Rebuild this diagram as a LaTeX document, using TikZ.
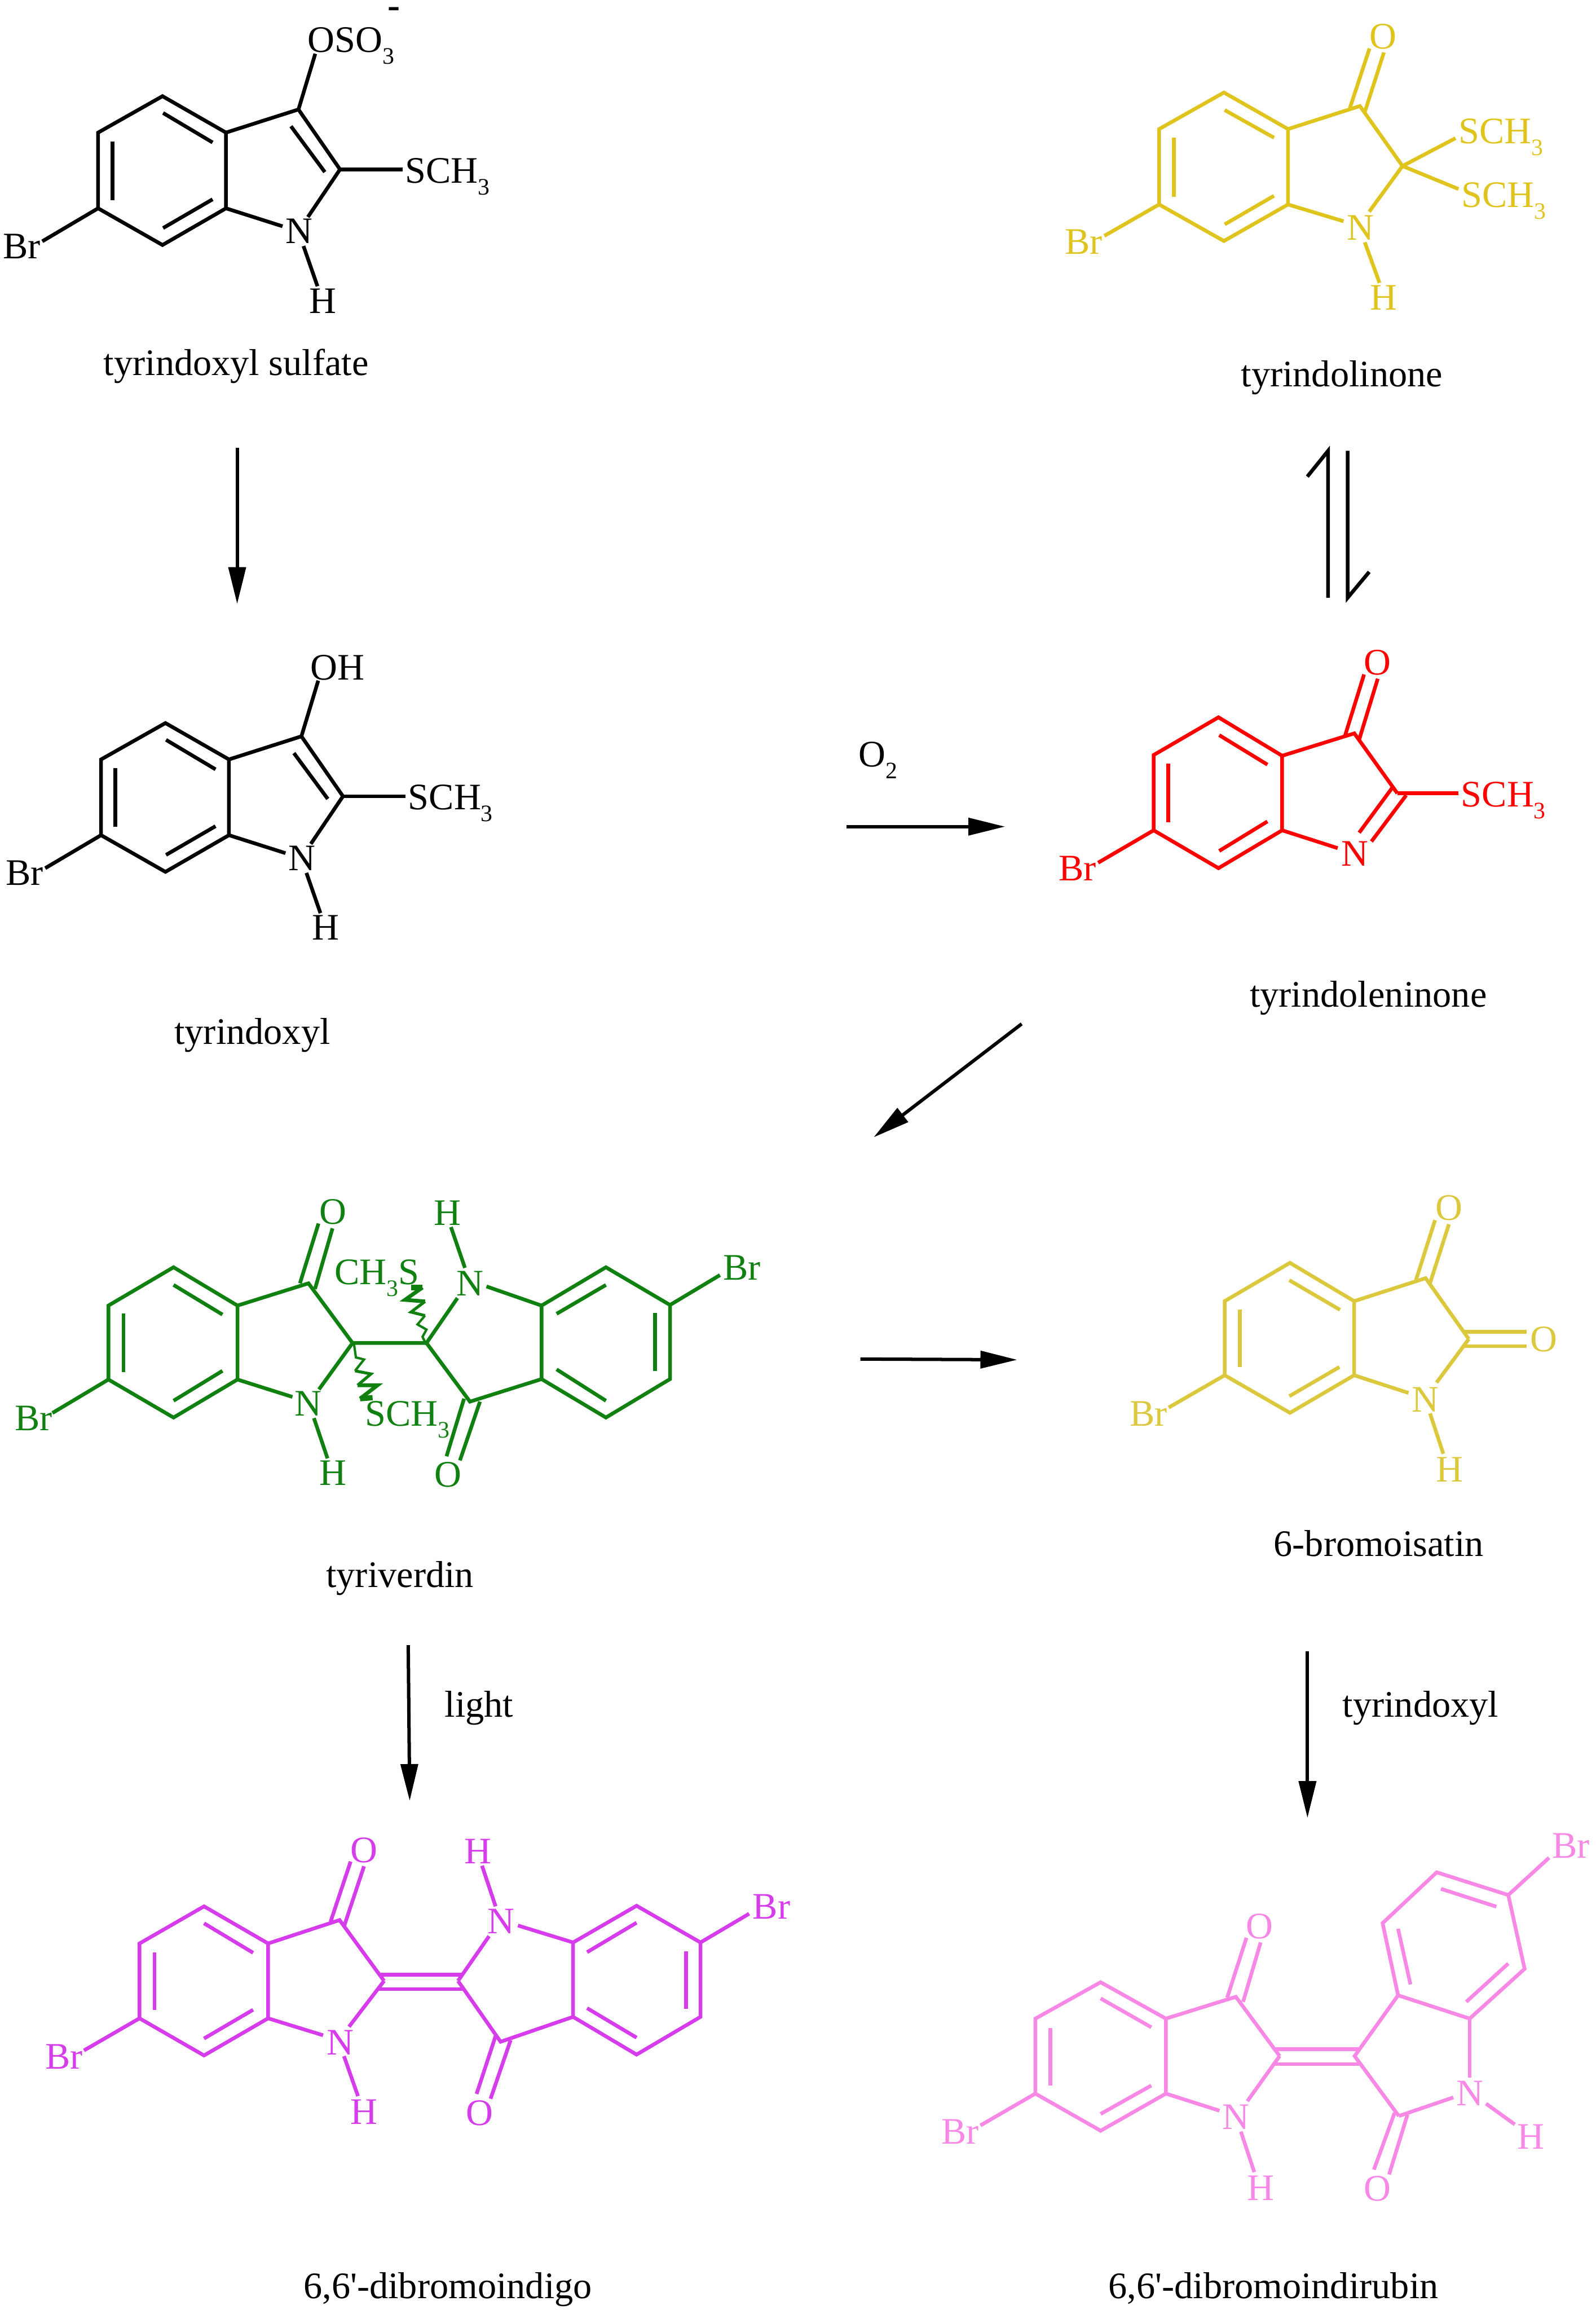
\documentclass[tikz,border=0pt]{standalone}
\usepackage{fontspec}
\setmainfont{Liberation Serif}
\newfontfamily\plainserif{Liberation Serif}
\usetikzlibrary{arrows.meta}
\definecolor{goldmol}{HTML}{E0C41E}
\definecolor{redmol}{HTML}{FF0000}
\definecolor{greenmol}{HTML}{108010}
\definecolor{yellowmol}{HTML}{DCC83C}
\definecolor{purplemol}{HTML}{D63CEB}
\definecolor{pinkmol}{HTML}{F788E6}
\tikzset{
  bondline/.style={line width=1.25pt,line join=miter,line cap=butt},
  atomlab/.style={anchor=base west,inner sep=0pt,xshift=-0.3pt,yshift=-0.3pt,font=\fontsize{12.7}{14}\selectfont},
  caption/.style={anchor=base west,inner sep=0pt,yshift=-0.3pt,text=black,font=\fontsize{12.7}{14}\selectfont},
  rxn/.style={line width=1.15pt,black,-{Triangle[length=12.5pt,width=5.8pt]}},
  eqline/.style={line width=1.25pt,black,line join=miter}
}
\newcommand\subd[1]{\raisebox{-4pt}{\fontsize{8}{8}\selectfont #1}}
\newcommand\atomat[3]{\coordinate (#1) at (#2,#3);}
\newcommand\lab[4]{\node[atomlab] (#1) at (#2,#3) {#4};}
\newcommand\link[2]{\draw[bondline] (#1) -- (#2);}
% free segment: named ends #1a, #1b
\newcommand\seg[5]{\coordinate (#1a) at (#2,#3);\coordinate (#1b) at (#4,#5);\draw[bondline] (#1a) -- (#1b);}
% bond from atom #1 to a free end #2
\newcommand\tobond[4]{\coordinate (#2) at (#3,#4);\draw[bondline] (#1) -- (#2);}
% hexagon drawn through six named atoms
\newcommand\ring[6]{\draw[bondline] (#1) -- (#2) -- (#3) -- (#4) -- (#5) -- (#6) -- cycle;}
% the tyrindoxyl skeleton shared by the two top-left molecules
\newcommand\indolyl[1]{%
  \atomat{#1t}{110.3}{65.3}\atomat{#1ul}{66.6}{90}\atomat{#1ll}{66.6}{141.4}
  \atomat{#1b}{110.3}{166.3}\atomat{#1lr}{153.4}{141.4}\atomat{#1ur}{153.4}{90}
  \atomat{#1c3}{202.6}{74.3}\atomat{#1c2}{230.8}{115}
  \ring{#1t}{#1ul}{#1ll}{#1b}{#1lr}{#1ur}
  \draw[bondline] (#1ur) -- (#1c3) -- (#1c2);
  \tobond{#1lr}{#1ne}{191.8}{153.6}
  \tobond{#1c2}{#1nf}{209}{147.3}
  \seg{#1nh}{206}{167}{215.5}{194.3}
  \tobond{#1c3}{#1oe}{214}{36.5}
  \tobond{#1c2}{#1se}{273.3}{115}
  \tobond{#1ll}{#1bre}{28.7}{163.8}
  \seg{#1da}{110.7}{76.7}{144.3}{96.7}
  \seg{#1db}{76.3}{95.9}{76.3}{135.8}
  \seg{#1dc}{110.7}{154.8}{144.3}{135.3}
  \seg{#1dd}{197.5}{85.7}{220.5}{116.8}
  \lab{#1S}{275.3}{123.5}{SCH\subd{3}}
  \lab{#1N}{194}{164.6}{N}
  \lab{#1H}{210}{212}{H}
  \lab{#1Br}{2.3}{174.8}{Br}
}
\begin{document}
\begin{tikzpicture}[x=0.5pt,y=-0.5pt]
\useasboundingbox (0,0) rectangle (1083,1568);

% ---------- tyrindoxyl sulfate
\begin{scope}[black]
  \indolyl{a}
  \lab{aO}{209}{34.8}{OSO\subd{3}}
  \node[anchor=base,inner sep=0pt,font=\fontsize{12.7}{14}\selectfont\bfseries] (aminus) at (267.6,12) {-};
\end{scope}
\node[caption] (capa) at (70,254) {tyrindoxyl sulfate};

% ---------- tyrindoxyl
\begin{scope}[black,shift={(2,425.5)}]
  \indolyl{c}
  \lab{cO}{209}{35.5}{OH}
\end{scope}
\node[caption] (capc) at (118,708) {tyrindoxyl};

% ---------- tyrindolinone
\begin{scope}[color=goldmol]
  \atomat{bt}{830.8}{62.8}\atomat{bul}{786.8}{87.6}\atomat{bll}{786.8}{138.8}
  \atomat{bb}{830.8}{163.6}\atomat{blr}{874.3}{138.8}\atomat{bur}{874.3}{87.6}
  \atomat{bc3}{923.1}{72}\atomat{bc2}{952}{112.7}
  \ring{bt}{bul}{bll}{bb}{blr}{bur}
  \draw[bondline] (bur) -- (bc3) -- (bc2);
  \tobond{blr}{bne}{912}{150.2}
  \tobond{bc2}{bnf}{929.4}{143.7}
  \seg{bnh}{926.4}{164.5}{936.4}{192}
  \seg{bo1}{916.3}{73.3}{929.6}{32.9}
  \seg{bo2}{926.4}{76}{939.4}{35.6}
  \tobond{bc2}{bs1}{988}{93.8}
  \tobond{bc2}{bs2}{990}{128.3}
  \tobond{bll}{bbre}{749.6}{160.1}
  \seg{bda}{831.3}{74.7}{864.8}{93.5}
  \seg{bdb}{796.9}{93.5}{796.9}{133.5}
  \seg{bdc}{831.3}{152.3}{864.8}{132.9}
  \lab{bO}{930}{32.4}{O}
  \lab{bS1}{990.4}{97}{SCH\subd{3}}
  \lab{bS2}{992.2}{140.2}{SCH\subd{3}}
  \lab{bN}{914.6}{162.3}{N}
  \lab{bH}{930.1}{209.7}{H}
  \lab{bBr}{723.2}{172}{Br}
\end{scope}
\node[caption] (capb) at (842,262) {tyrindolinone};

% ---------- equilibrium arrows
\atomat{eqa}{901.5}{405.7}\atomat{eqb}{901.5}{306}\atomat{eqc}{887.4}{323.5}
\atomat{eqd}{914.8}{306}\atomat{eqe}{914.8}{405.7}\atomat{eqf}{929.4}{388.2}
\draw[eqline] (eqa) -- (eqb) -- (eqc);
\draw[eqline] (eqd) -- (eqe) -- (eqf);

% ---------- tyrindoleninone
\begin{scope}[color=redmol]
  \atomat{dt}{827.1}{486.9}\atomat{dul}{783.1}{512.5}\atomat{dll}{783.1}{563.6}
  \atomat{db}{827.1}{589.3}\atomat{dlr}{870.3}{563.6}\atomat{dur}{870.3}{513}
  \atomat{dc3}{919.3}{497.8}\atomat{dc2}{948.5}{538.5}
  \ring{dt}{dul}{dll}{db}{dlr}{dur}
  \draw[bondline] (dur) -- (dc3) -- (dc2);
  \tobond{dlr}{dne}{908}{575.7}
  \seg{dn1}{945.2}{534.5}{922.6}{565.2}
  \seg{dn2}{954.5}{539.8}{930.9}{571.2}
  \seg{do1}{913.1}{499}{925.9}{457.8}
  \seg{do2}{922.6}{502}{935.2}{460.7}
  \tobond{dc2}{dse}{990}{538.5}
  \tobond{dll}{dbre}{745.4}{585.6}
  \seg{dda}{827.6}{499}{860.3}{519}
  \seg{ddb}{792.9}{518.2}{792.9}{558.1}
  \seg{ddc}{827.6}{577.6}{860.3}{557.6}
  \lab{dO}{926}{457.4}{O}
  \lab{dS}{992}{547}{SCH\subd{3}}
  \lab{dN}{910.8}{587.2}{N}
  \lab{dBr}{719}{597.1}{Br}
\end{scope}
\node[caption] (capd) at (848,683) {tyrindoleninone};

% ---------- tyriverdin
\begin{scope}[color=greenmol]
  \atomat{et}{117.8}{860.2}\atomat{eul}{73.6}{886.2}\atomat{ell}{73.6}{936.4}
  \atomat{eb}{117.8}{962.2}\atomat{elr}{161.2}{936.4}\atomat{eur}{161.2}{886.2}
  \atomat{ec3}{209.4}{871.1}\atomat{ec2}{239.3}{911.6}
  \atomat{fc2}{289.5}{911.6}\atomat{fc3}{319}{951.4}
  \atomat{fll}{367.6}{936.1}\atomat{ful}{367.6}{886.2}\atomat{ft}{411.3}{860.2}
  \atomat{fur}{454.8}{885.8}\atomat{flr}{454.8}{936.1}\atomat{fb}{411.3}{962.2}
  \ring{et}{eul}{ell}{eb}{elr}{eur}
  \ring{ft}{ful}{fll}{fb}{flr}{fur}
  \draw[bondline] (eur) -- (ec3) -- (ec2) -- (fc2) -- (fc3) -- (fll);
  \tobond{elr}{ene}{198.5}{948.2}
  \tobond{ec2}{enf}{216.5}{943.1}
  \seg{enh}{213.1}{962.6}{222.3}{989.9}
  \tobond{ful}{fne}{330.2}{873.2}
  \tobond{fc2}{fnf}{310.5}{881.1}
  \seg{fnh}{315.6}{860.6}{306.1}{832.9}
  \seg{eo1}{203.6}{871.1}{216.2}{830.5}
  \seg{eo2}{213.8}{874.9}{225.7}{833.8}
  \seg{fo1}{315}{949.4}{303.1}{988.5}
  \seg{fo2}{325.8}{951.4}{312.2}{991.3}
  \tobond{ell}{ebre}{35.6}{959.1}
  \tobond{fur}{fbre}{488.7}{865.5}
  \seg{eda}{117.8}{872.2}{151}{892.3}
  \seg{edb}{83.8}{891.6}{83.8}{931.2}
  \seg{edc}{117.8}{950.8}{151}{930.5}
  \seg{fda}{411.3}{872.2}{377.8}{891.8}
  \seg{fdb}{444.6}{891.3}{444.6}{930.5}
  \seg{fdc}{411.3}{950.8}{377.8}{929.5}
  % wavy bonds, thickening away from the carbon
  \foreach \n/\x/\y in {1/288.5/910.9,2/286.8/907.4,3/289.5/902.5,4/283.4/899,5/288.5/893,6/279/890.6,7/288.5/883.4,8/274.9/882.3,9/286.8/873.9,10/279/873.9}
    {\coordinate (wu\n) at (\x,\y);}
  \foreach \n/\x/\y in {1/240.3/912.3,2/241.6/921.4,3/247.1/922.8,4/241/930.5,5/251.8/932.6,6/242.7/940.3,7/256.2/940.3,8/244.4/949.4,9/252.9/948.7}
    {\coordinate (wl\n) at (\x,\y);}
  \draw[line width=0.8pt,line join=miter] (wu1) -- (wu2) -- (wu3) -- (wu4) -- (wu5);
  \draw[line width=1pt,line join=miter] (wu5) -- (wu6) -- (wu7);
  \draw[line width=1.3pt,line join=miter] (wu7) -- (wu8) -- (wu9);
  \draw[line width=1.8pt] (wu9) -- (wu10);
  \draw[line width=0.8pt,line join=miter] (wl1) -- (wl2) -- (wl3) -- (wl4);
  \draw[line width=1pt,line join=miter] (wl4) -- (wl5) -- (wl6);
  \draw[line width=1.3pt,line join=miter] (wl6) -- (wl7) -- (wl8);
  \draw[line width=1.8pt] (wl8) -- (wl9);
  \lab{eO}{217.2}{830.1}{O}
  \lab{fH}{294.6}{831.2}{H}
  \lab{eCS}{227.4}{871.1}{CH\subd{3}S}
  \lab{fN}{309.9}{878.8}{N}
  \lab{fBr}{491.1}{868.3}{Br}
  \lab{eBr}{10.2}{970.3}{Br}
  \lab{eN}{200.2}{960.3}{N}
  \lab{eS}{248}{967.2}{SCH\subd{3}}
  \lab{eH}{217.2}{1007.6}{H}
  \lab{fO}{295.3}{1008.8}{O}
\end{scope}
\node[caption] (cape) at (221,1077) {tyriverdin};

% ---------- 6-bromoisatin
\begin{scope}[color=yellowmol]
  \atomat{gt}{875.6}{857.2}\atomat{gul}{831.3}{883.2}\atomat{gll}{831.3}{933.5}
  \atomat{gb}{875.6}{959}\atomat{glr}{919.2}{933.5}\atomat{gur}{919.2}{883.2}
  \atomat{gc3}{967.7}{867.6}\atomat{gc2}{997}{908.9}
  \ring{gt}{gul}{gll}{gb}{glr}{gur}
  \draw[bondline] (gur) -- (gc3) -- (gc2);
  \tobond{glr}{gne}{956.1}{945.5}
  \tobond{gc2}{gnf}{975.1}{938.5}
  \seg{gnh}{970.7}{959.4}{979.7}{986.8}
  \seg{go1}{961.1}{869}{974.1}{828.2}
  \seg{go2}{970.5}{871.6}{983.5}{831}
  \seg{gp1}{994}{903.9}{1036.4}{903.9}
  \seg{gp2}{994}{913.7}{1036.4}{913.7}
  \tobond{gll}{gbre}{793.3}{955.4}
  \seg{gda}{875.2}{869}{909.6}{889.1}
  \seg{gdb}{841.5}{889}{841.5}{928.1}
  \seg{gdc}{875.2}{947.7}{909.2}{927.9}
  \lab{gO}{974.5}{827.6}{O}
  \lab{gP}{1039}{916.9}{O}
  \lab{gN}{958.5}{957.8}{N}
  \lab{gH}{975}{1005.4}{H}
  \lab{gBr}{767}{967.4}{Br}
\end{scope}
\node[caption] (capg) at (864.2,1055.9) {6-bromoisatin};

% ---------- 6,6'-dibromoindigo
\begin{scope}[color=purplemol]
  \atomat{ht}{138.5}{1294}\atomat{hul}{94.7}{1319.2}\atomat{hll}{94.7}{1370}
  \atomat{hb}{138.5}{1395.2}\atomat{hlr}{182}{1370}\atomat{hur}{182}{1319.2}
  \atomat{hc3}{230.5}{1303.3}\atomat{hc2}{260.7}{1344.6}
  \atomat{ic2}{310.9}{1344.6}\atomat{ic3}{339.8}{1385.9}
  \atomat{ill}{389}{1369}\atomat{iul}{389}{1318.5}\atomat{it}{432.1}{1293.6}
  \atomat{iur}{475.5}{1318.5}\atomat{ilr}{475.5}{1369}\atomat{ib}{432.1}{1394.6}
  \ring{ht}{hul}{hll}{hb}{hlr}{hur}
  \ring{it}{iul}{ill}{ib}{ilr}{iur}
  \draw[bondline] (hur) -- (hc3) -- (hc2);
  \draw[bondline] (ic2) -- (ic3) -- (ill);
  \tobond{hlr}{hne}{219.3}{1381.5}
  \tobond{hc2}{hnf}{236.9}{1375.7}
  \seg{hnh}{233.5}{1395.7}{243}{1422.8}
  \tobond{iul}{ine}{351.6}{1307}
  \tobond{ic2}{inf}{332}{1314.2}
  \seg{inh}{336.4}{1294}{327.2}{1266.4}
  \seg{ho1}{224.4}{1304.4}{238}{1263.6}
  \seg{ho2}{233.5}{1307.7}{247.1}{1266.8}
  \seg{io1}{336.4}{1382}{323.5}{1421.3}
  \seg{io2}{346.6}{1384.8}{333}{1424.6}
  \seg{hi1}{257.3}{1340.3}{314.3}{1340.3}
  \seg{hi2}{257.3}{1350.1}{314.3}{1350.1}
  \tobond{hll}{hbre}{57}{1391.8}
  \tobond{iur}{ibre}{508.5}{1299}
  \seg{hda}{138.5}{1305.5}{171.8}{1325.5}
  \seg{hdb}{104.9}{1325.1}{104.9}{1364.2}
  \seg{hdc}{138.5}{1383.7}{171.8}{1364.2}
  \seg{ida}{432.1}{1305.1}{398.5}{1325.1}
  \seg{idb}{465.7}{1324.4}{465.7}{1363.5}
  \seg{idc}{432.1}{1383.1}{398.5}{1363.1}
  \lab{hO}{238}{1263.6}{O}
  \lab{iH}{315.3}{1264.2}{H}
  \lab{iN}{331.3}{1312}{N}
  \lab{iBr}{511.2}{1301.8}{Br}
  \lab{hBr}{30.9}{1403.9}{Br}
  \lab{hN}{222}{1394}{N}
  \lab{hH}{238}{1441.3}{H}
  \lab{iO}{316.7}{1442}{O}
\end{scope}
\node[caption] (caph) at (205.7,1559.7) {\plainserif 6,6'-dibromoindigo};

% ---------- 6,6'-dibromoindirubin
\begin{scope}[color=pinkmol]
  \atomat{jt}{747.1}{1345.5}\atomat{jul}{702.8}{1370.2}\atomat{jll}{702.8}{1421.1}
  \atomat{jb}{747.1}{1446.3}\atomat{jlr}{791.4}{1421.1}\atomat{jur}{791.4}{1370.2}
  \atomat{jc3}{838.9}{1355.4}\atomat{jc2}{868.6}{1395.6}
  \atomat{kc2}{919.5}{1395.6}\atomat{kco}{949.5}{1436.3}\atomat{kc3a}{949}{1354.4}
  \atomat{kc7a}{997.6}{1370.2}\atomat{kc7}{1034.9}{1336.4}\atomat{kc6}{1023.8}{1286.3}
  \atomat{kc5}{975.2}{1270.9}\atomat{kc4}{938.5}{1305.4}
  \ring{jt}{jul}{jll}{jb}{jlr}{jur}
  \ring{kc3a}{kc7a}{kc7}{kc6}{kc5}{kc4}
  \draw[bondline] (jur) -- (jc3) -- (jc2);
  \draw[bondline] (kc3a) -- (kc2) -- (kco);
  \tobond{jlr}{jne}{827.8}{1432.7}
  \tobond{jc2}{jnf}{846.7}{1426.2}
  \seg{jnh}{842.3}{1446.9}{851.4}{1474.4}
  \tobond{kc7a}{kne}{997.6}{1410.4}
  \tobond{kco}{knf}{986.5}{1423.7}
  \seg{knh}{1008.7}{1427.9}{1028.2}{1442}
  \seg{ji1}{865.6}{1390.9}{922.5}{1390.9}
  \seg{ji2}{865.6}{1401}{922.5}{1401}
  \seg{jo1}{833}{1356}{846.1}{1315.3}
  \seg{jo2}{843.8}{1358.8}{855.7}{1318.5}
  \seg{ko1}{946.6}{1434.2}{932.6}{1472.7}
  \seg{ko2}{955.4}{1435.3}{942.9}{1476}
  \tobond{jll}{jbre}{665.5}{1442.7}
  \tobond{kc6}{kbre}{1051.5}{1261}
  \seg{jda}{747.1}{1356.5}{781.5}{1376.1}
  \seg{jdb}{713}{1376.5}{713}{1415.6}
  \seg{jdc}{747.1}{1434.9}{781.5}{1415.6}
  \seg{kda}{978.1}{1282.1}{1015.7}{1294.2}
  \seg{kdb}{949}{1309.2}{957.4}{1347}
  \seg{kdc}{1023.8}{1332.8}{995.3}{1358.8}
  \lab{jO}{846.1}{1315.3}{O}
  \lab{kBr}{1053.8}{1260.6}{Br}
  \lab{jN}{830.1}{1444.8}{N}
  \lab{jH}{846.7}{1492.9}{H}
  \lab{kN}{988.9}{1428.5}{N}
  \lab{kH}{1030.2}{1457.9}{H}
  \lab{kO}{926.2}{1493.4}{O}
  \lab{jBr}{639.3}{1454.7}{Br}
\end{scope}
\node[caption] (capj) at (752,1559.5) {\plainserif 6,6'-dibromoindirubin};

% ---------- reaction arrows and their labels
\atomat{r1a}{161}{304}\atomat{r1b}{161}{410}
\atomat{r2a}{574.7}{561.1}\atomat{r2b}{682.3}{561.1}
\atomat{r3a}{693.5}{695}\atomat{r3b}{593}{772}
\atomat{r4a}{584}{922.5}\atomat{r4b}{690.5}{923}
\atomat{r5a}{277.1}{1116.7}\atomat{r5b}{278.1}{1222.4}
\atomat{r6a}{887.5}{1121}\atomat{r6b}{887.5}{1234}
\draw[rxn] (r1a) -- (r1b);
\draw[rxn] (r2a) -- (r2b);
\draw[rxn] (r3a) -- (r3b);
\draw[rxn] (r4a) -- (r4b);
\draw[rxn] (r5a) -- (r5b);
\draw[rxn] (r6a) -- (r6b);
\node[caption] (ltwo) at (582.5,520) {O\subd{2}};
\node[caption] (llight) at (301.5,1165) {light};
\node[caption] (ltyr) at (911,1165) {tyrindoxyl};
\end{tikzpicture}
\end{document}
